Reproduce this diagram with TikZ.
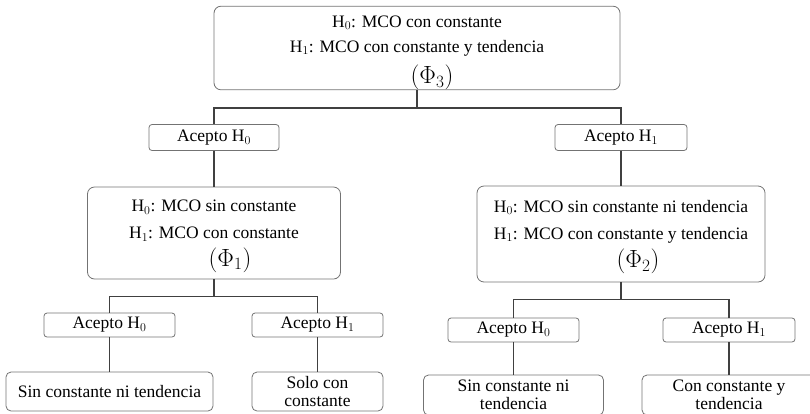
\documentclass[tikz,border=0pt]{standalone}
\usepackage{fontspec}
\setmainfont{Liberation Serif}
\usetikzlibrary{calc}

\begin{document}
\begin{tikzpicture}[x=1pt, y=-1pt,
    hyp/.style={draw=black!55, line width=0.8pt, rounded corners=7pt, align=center, inner sep=0pt, font=\fontsize{17.5}{19}\selectfont},
    acepto/.style={draw=black!55, line width=0.8pt, rounded corners=3pt, inner sep=0pt, minimum height=26pt, font=\fontsize{17.5}{19}\selectfont},
    final/.style={draw=black!55, line width=0.8pt, rounded corners=5pt, align=center, inner sep=0pt, minimum height=39pt, font=\fontsize{17.5}{18}\selectfont},
    rama/.style={draw=black!75, line width=1.8pt}]
      \useasboundingbox (0,0) rectangle (810,413);

      \node[hyp, minimum width=406pt, minimum height=82pt] (phi3) at (417,48) {\rule{0pt}{21pt}H$_0$: MCO con constante\\[6pt] H$_1$: MCO con constante y tendencia\\[8pt] \hspace*{30pt}{\fontsize{25}{25}\selectfont$(\Phi_3)$}};

      \node[acepto, minimum width=130pt] (a0) at (214,137.5) {Acepto H$_0$};
      \node[acepto, minimum width=132pt] (a1) at (621,137.5) {Acepto H$_1$};

      \node[hyp, minimum width=253pt, minimum height=92pt] (phi1) at (214,233) {\rule{0pt}{18pt}H$_0$: MCO sin constante\\[8pt] H$_1$: MCO con constante\\[5pt] \hspace*{32pt}{\fontsize{25}{25}\selectfont$(\Phi_1)$}};
      \node[hyp, minimum width=288pt, minimum height=96pt] (phi2) at (621,234) {\rule{0pt}{18pt}H$_0$: MCO sin constante ni tendencia\\[8pt] H$_1$: MCO con constante y tendencia\\[5pt] \hspace*{34pt}{\fontsize{25}{25}\selectfont$(\Phi_2)$}};

      \node[acepto, minimum width=131pt, minimum height=24pt] (b0) at (109.5,325) {Acepto H$_0$};
      \node[acepto, minimum width=131pt, minimum height=24pt] (b1) at (317.5,325) {Acepto H$_1$};
      \node[acepto, minimum width=131pt, minimum height=24pt] (d0) at (513.5,330) {Acepto H$_0$};
      \node[acepto, minimum width=132pt, minimum height=24pt] (d1) at (729,330) {Acepto H$_1$};

      \node[final, minimum width=207pt] (c0) at (109.5,391.5) {Sin constante ni tendencia};
      \node[final, minimum width=131pt] (c1) at (317.5,391.5) {Solo con\\constante};
      \node[final, minimum width=180pt, minimum height=40pt] (e0) at (513.5,395) {Sin constante ni\\tendencia};
      \node[final, minimum width=174pt, minimum height=40pt] (e1) at (729,395) {Con constante y\\tendencia};

      \draw[rama] (phi3.south) -- ++(0,18) -| (a0.north);
      \draw[rama] (phi3.south) -- ++(0,18) -| (a1.north);
      \draw[rama] (a0) -- (phi1);
      \draw[rama] (a1) -- (phi2);

      \draw[rama] (phi1.south) -- ++(0,17) -| (b0.north);
      \draw[rama] (phi1.south) -- ++(0,17) -| (b1.north);
      \draw[rama] (b0) -- (c0);
      \draw[rama] (b1) -- (c1);

      \draw[rama] (phi2.south) -- ++(0,17) -| (d0.north);
      \draw[rama] (phi2.south) -- ++(0,17) -| (d1.north);
      \draw[rama] (d0) -- (e0);
      \draw[rama] (d1) -- (e1);
\end{tikzpicture}
\end{document}
